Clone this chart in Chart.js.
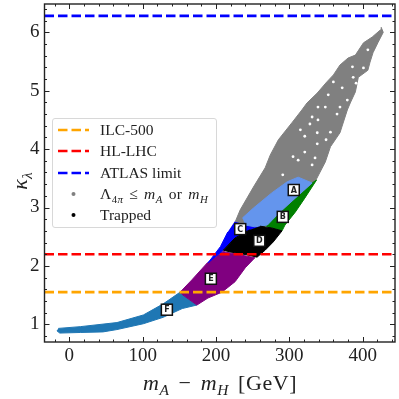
<!DOCTYPE html>
<html>
<head>
<meta charset="utf-8">
<script src="https://cdn.jsdelivr.net/npm/chart.js@4"></script>
<style>
  body { margin: 0; background: #fff; }
  #wrap { position: relative; width: 399px; height: 399px; overflow: hidden; font-family: "Liberation Serif", serif; color: #222; }
  #wrap sub { font-size: 70%; line-height: 0; }
  #legend { position: absolute; left: 52px; top: 118px; width: 165px; height: 110px; box-sizing: border-box;
            background: rgba(255,255,255,0.85); border: 1.5px solid #d8d8d8; border-radius: 3px; }
  .row { position: absolute; left: 0; right: 0; height: 20px; font-size: 15.5px; line-height: 20px; white-space: nowrap; }
  .row span.txt { position: absolute; left: 47px; }
  .row svg { position: absolute; left: 5px; top: 0; }
  .axt { position: absolute; font-size: 22px; white-space: nowrap; }
</style>
</head>
<body>
<div id="wrap">
  <canvas id="myChart" width="399" height="399"></canvas>
  <div id="legend"></div>
  <div class="axt" style="left:143px; top:370px; word-spacing:3px; letter-spacing:0.6px;"><i>m</i><sub><i>A</i></sub> − <i>m</i><sub><i>H</i></sub> [GeV]</div>
  <div class="axt" style="left:0px; top:168px; width:40px; text-align:center; transform:rotate(-90deg);"><i>κ</i><sub><i>λ</i></sub></div>
</div>
<script>
const xTicks = [0, 100, 200, 300, 400];
const yTicks = [1, 2, 3, 4, 5, 6];
const xRange = [-33.8, 444];
const yRange = [0.697, 6.485];

const ilcLimit = 1.55;
const hlLimit = 2.2;
const atlasLimit = 6.28;

// region outlines, [mA-mH, kappa]
const grayRegion = [[424,6.04],[413,5.92],[401,5.82],[390,5.61],[380,5.56],[369,5.44],[360,5.27],[351,5.15],[338,4.96],[324,4.79],[317,4.67],[304,4.46],[285,4.16],[274,3.90],[267,3.68],[251,3.35],[233,2.96],[226,2.75],[260,2.62],[315,3.13],[335,3.44],[349,3.78],[356,4.04],[369,4.28],[379,4.67],[383,4.79],[390,4.98],[394,5.23],[407,5.35],[410,5.49],[414,5.65],[421,5.83],[428,6.00],[425,6.09]];
const regionA = [[236,2.82],[251,2.99],[276,3.25],[297,3.44],[312,3.52],[331,3.42],[308,3.16],[287,2.92],[270,2.70],[253,2.67],[240,2.70]];
const regionB = [[331,3.42],[337,3.47],[321,3.16],[308,2.92],[294,2.70],[290,2.60],[276,2.65],[264,2.70],[270,2.70],[287,2.92],[308,3.16]];
const regionC = [[225,2.75],[240,2.70],[253,2.67],[260,2.68],[246,2.62],[226,2.48],[210,2.27],[189,2.05],[206,2.33],[216,2.58]];
const regionD = [[260,2.68],[276,2.65],[290,2.60],[278,2.41],[267,2.27],[256,2.15],[242,2.19],[219,2.24],[210,2.27],[226,2.48],[246,2.62]];
const regionE = [[212,2.24],[253,2.14],[240,1.97],[226,1.73],[208,1.55],[189,1.45],[174,1.33],[155,1.50],[151,1.55],[167,1.76],[188,2.05],[212,2.27]];
const regionF = [[-15,0.93],[15,0.96],[65,1.03],[101,1.16],[128,1.35],[151,1.55],[155,1.50],[174,1.33],[154,1.27],[128,1.12],[101,1.01],[65,0.91],[46,0.87],[15,0.86],[-13,0.85],[-17,0.89]];

// unfilled specks inside the gray cloud
const grayGaps = [[407,5.70],[386,5.41],[401,5.39],[387,5.23],[391,5.13],[360,5.15],[372,5.05],[353,4.93],[379,4.84],[339,4.72],[349,4.72],[369,4.72],[331,4.55],[328,4.43],[365,4.60],[339,4.50],[315,4.33],[321,4.22],[338,4.28],[356,4.29],[350,4.16],[338,4.09],[321,3.95],[305,3.87],[335,3.85],[312,3.81],[291,3.56],[331,3.73]];

const boxNames = ["A", "B", "C", "D", "E", "F"];
const boxX = [306, 291, 233, 259, 193, 133];
const boxY = [3.30, 2.84, 2.63, 2.43, 1.78, 1.25];

function toPoints(list) {
    return list.map(p => ({ x: p[0], y: p[1] }));
}

function region(list, color, order) {
    return {
        data: toPoints(list),
        showLine: true,
        fill: 'shape',
        backgroundColor: color,
        borderColor: color,
        borderWidth: 1,
        pointRadius: 0,
        order: order
    };
}

function limitLine(value, color) {
    return {
        data: [{ x: xRange[0], y: value }, { x: xRange[1], y: value }],
        showLine: true,
        borderColor: color,
        borderWidth: 2.7,
        borderDash: [9.5, 4],
        pointRadius: 0,
        fill: false,
        order: 1
    };
}

// matplotlib style inward ticks on all four sides, and the frame
const frame = {
    id: 'frame',
    afterDraw(chart) {
        const c = chart.ctx, a = chart.chartArea, sx = chart.scales.x, sy = chart.scales.y;
        c.save();
        c.strokeStyle = '#222';
        c.lineWidth = 1;
        c.beginPath();
        for (let v = -20; v <= 440; v += 20) {
            const px = Math.round(sx.getPixelForValue(v)) + 0.5;
            const len = v % 100 === 0 ? 5 : 2.5;
            c.moveTo(px, a.bottom); c.lineTo(px, a.bottom - len);
            c.moveTo(px, a.top); c.lineTo(px, a.top + len);
        }
        for (let i = 4; i <= 32; i++) {
            const py = Math.round(sy.getPixelForValue(i / 5)) + 0.5;
            const len = i % 5 === 0 ? 5 : 2.5;
            c.moveTo(a.left, py); c.lineTo(a.left + len, py);
            c.moveTo(a.right, py); c.lineTo(a.right - len, py);
        }
        c.stroke();
        c.lineWidth = 1.4;
        c.strokeRect(a.left, a.top, a.right - a.left, a.bottom - a.top);
        c.restore();
    }
};

// the little lettered boxes
const letterBoxes = {
    id: 'letterBoxes',
    afterDatasetsDraw(chart) {
        const c = chart.ctx, sx = chart.scales.x, sy = chart.scales.y;
        c.save();
        boxNames.forEach((name, i) => {
            const px = sx.getPixelForValue(boxX[i]), py = sy.getPixelForValue(boxY[i]);
            c.fillStyle = '#fff';
            c.strokeStyle = '#111';
            c.lineWidth = 1.5;
            c.fillRect(px - 5.5, py - 5.5, 11, 11);
            c.strokeRect(px - 5.5, py - 5.5, 11, 11);
            c.fillStyle = '#222';
            c.font = 'bold 8px "DejaVu Sans"';
            c.textAlign = 'center';
            c.textBaseline = 'middle';
            c.fillText(name, px, py + 0.5);
        });
        c.restore();
    }
};

new Chart(document.getElementById('myChart').getContext('2d'), {
    type: 'scatter',
    data: {
        datasets: [
            limitLine(ilcLimit, 'orange'),
            limitLine(hlLimit, 'red'),
            limitLine(atlasLimit, 'blue'),
            {
                data: toPoints(grayGaps),
                backgroundColor: '#fff',
                borderWidth: 0,
                pointRadius: 1.4,
                order: 3
            },
            region(regionD, 'black', 3),
            region(regionA, 'cornflowerblue', 4),
            region(regionB, 'green', 4),
            region(regionC, 'blue', 4),
            region(regionE, 'purple', 4),
            region(regionF, '#1f77b4', 4),
            region(grayRegion, 'gray', 9)
        ]
    },
    options: {
        responsive: false,
        animation: false,
        layout: { padding: { top: 4, right: 4 } },
        plugins: { legend: { display: false }, tooltip: { enabled: false } },
        scales: {
            x: {
                type: 'linear',
                min: xRange[0],
                max: xRange[1],
                grid: { display: false, drawTicks: false },
                border: { display: false },
                afterBuildTicks: s => { s.ticks = xTicks.map(v => ({ value: v })); },
                afterFit: s => { s.height = 57; s.paddingLeft = 0; s.paddingRight = 0; },
                ticks: { autoSkip: false, maxRotation: 0, padding: 3, color: '#222', font: { family: 'Liberation Serif', size: 19 } }
            },
            y: {
                type: 'linear',
                min: yRange[0],
                max: yRange[1],
                grid: { display: false, drawTicks: false },
                border: { display: false },
                afterBuildTicks: s => { s.ticks = yTicks.map(v => ({ value: v })); },
                afterFit: s => { s.width = 44.5; s.paddingTop = 0; s.paddingBottom = 0; },
                ticks: { autoSkip: false, padding: 5, color: '#222', font: { family: 'Liberation Serif', size: 19 } }
            }
        }
    },
    plugins: [letterBoxes, frame]
});

// legend, html because of the subscripts
const legendRows = [
    { html: 'ILC-500', line: 'orange' },
    { html: 'HL-LHC', line: 'red' },
    { html: 'ATLAS limit', line: 'blue' },
    { html: '<span style="word-spacing:1.5px;letter-spacing:0.45px">Λ<sub>4<i>π</i></sub> ≤ <i>m</i><sub><i>A</i></sub> or <i>m</i><sub><i>H</i></sub></span>', dot: 'gray' },
    { html: 'Trapped', dot: 'black' }
];
const legendBox = document.getElementById('legend');
legendRows.forEach((row, i) => {
    const el = document.createElement('div');
    el.className = 'row';
    el.style.top = (1 + i * 21.3) + 'px';
    let mark = row.line
        ? `<line x1="0" x2="31" y1="10" y2="10" stroke="${row.line}" stroke-width="2.7" stroke-dasharray="9.5 4"/>`
        : `<circle cx="15.5" cy="10" r="2" fill="${row.dot}"/>`;
    el.innerHTML = `<svg width="32" height="20">${mark}</svg><span class="txt">${row.html}</span>`;
    legendBox.appendChild(el);
});
</script>
</body>
</html>
